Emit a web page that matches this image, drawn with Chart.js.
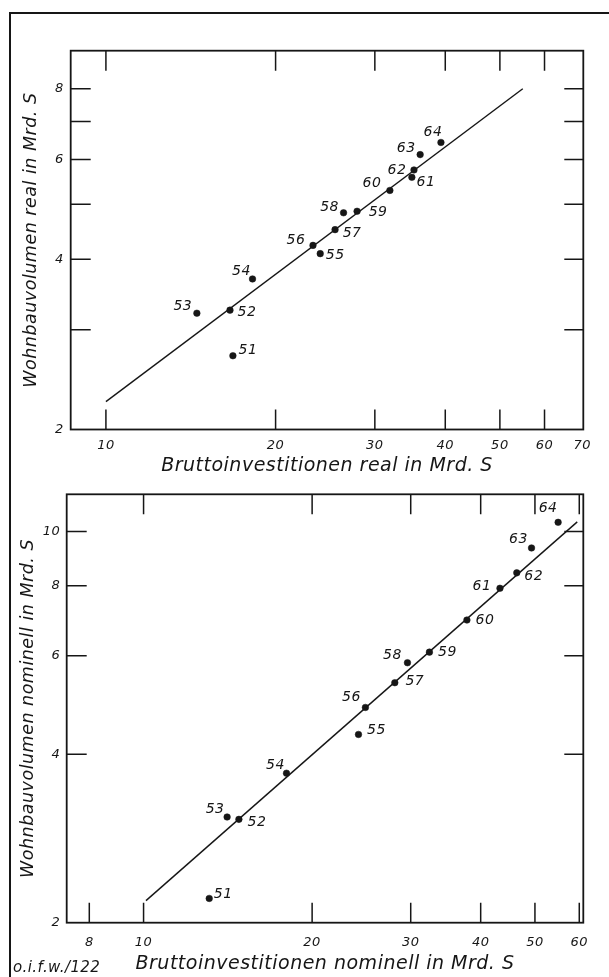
<!DOCTYPE html>
<html>
<head>
<meta charset="utf-8">
<script src="https://cdn.jsdelivr.net/npm/chart.js@4.4.1/dist/chart.umd.min.js"></script>
<style>
  html, body { margin: 0; padding: 0; background: #fff; width: 609px; height: 977px; overflow: hidden; }
  #frame { position: absolute; left: 9px; top: 12px; width: 620px; height: 990px;
           border-top: 2px solid #161616; border-left: 2px solid #161616; }
  canvas { position: absolute; left: 0; }
  #c1 { top: 0; }
  #c2 { top: 480px; }
  #credit { position: absolute; left: 13px; top: 958px; font: italic 15px "DejaVu Sans";
            color: #161616; letter-spacing: 0.4px; white-space: nowrap; }
</style>
</head>
<body>
<div id="frame"></div>
<canvas id="c1" width="609" height="480"></canvas>
<canvas id="c2" width="609" height="497"></canvas>
<div id="credit">o.i.f.w./122</div>
<script>
// ---- data ----
const years = ['51','52','53','54','55','56','57','58','59','60','61','62','63','64'];

// upper chart: real values
const realInvest = [16.8, 16.6, 14.5, 18.2, 24.0, 23.3, 25.5, 26.4, 27.9, 31.9, 34.9, 35.2, 36.1, 39.3];
const realHousing = [2.70, 3.25, 3.21, 3.69, 4.09, 4.23, 4.51, 4.83, 4.86, 5.29, 5.58, 5.75, 6.12, 6.43];
const realFitX = [10, 54.9];
const realFitY = [2.24, 8.0];

// lower chart: nominal values
const nomInvest = [13.1, 14.8, 14.1, 18.0, 24.2, 24.9, 28.1, 29.6, 32.4, 37.8, 43.3, 46.4, 49.3, 55.0];
const nomHousing = [2.21, 3.06, 3.09, 3.70, 4.34, 4.85, 5.37, 5.83, 6.09, 6.95, 7.92, 8.44, 9.35, 10.39];
const nomFitX = [10.1, 59.5];
const nomFitY = [2.19, 10.41];

// tick labels
const realXLabels = [10, 20, 30, 40, 50, 60, 70];
const realYLabels = [2, 4, 6, 8];
const nomXLabels = [8, 10, 20, 30, 40, 50, 60];
const nomYLabels = [2, 4, 6, 8, 10];

// inward tick marks
const realXMarksBottom = [10, 20, 30, 40, 50, 60];
const realXMarksTop = [10, 20, 30, 40, 50, 60];
const realYMarks = [3, 4, 5, 6, 7, 8];
const nomXMarksBottom = [8, 10, 20, 30, 40, 50, 60];
const nomXMarksTop = [10, 20, 30, 40, 50, 60];
const nomYMarks = [4, 6, 8, 10];

// label placement relative to each point (style)
const realLabelOffsets = [[15,-5],[17,2],[-14,-7],[-11,-8],[15,2],[-17,-5],[17,4],[-14,-5],[21,1],[-18,-7],[14,5],[-17,0],[-14,-6],[-8,-10]];
const nomLabelOffsets = [[14,-4],[18,3],[-12,-8],[-11,-8],[18,-4],[-14,-10],[20,-1],[-15,-7],[18,0],[18,0],[-18,-2],[17,4],[-13,-9],[-10,-14]];

const INK = '#161616';
const FONT = 'DejaVu Sans';

const framePlugin = {
  id: 'frameTicks',
  beforeDraw(chart) { chart.ctx.letterSpacing = '0.5px'; },
  afterDraw(chart, args, o) {
    const { ctx, chartArea: a, scales: { x, y } } = chart;
    ctx.save();
    ctx.strokeStyle = INK;
    ctx.lineWidth = 1.8;
    ctx.strokeRect(a.left, a.top, a.right - a.left, a.bottom - a.top);
    ctx.lineWidth = 1.5;
    ctx.beginPath();
    o.xBottom.forEach(v => { const p = x.getPixelForValue(v); ctx.moveTo(p, a.bottom); ctx.lineTo(p, a.bottom - o.len); });
    o.xTop.forEach(v => { const p = x.getPixelForValue(v); ctx.moveTo(p, a.top); ctx.lineTo(p, a.top + o.len); });
    o.y.forEach(v => {
      const p = y.getPixelForValue(v);
      ctx.moveTo(a.left, p); ctx.lineTo(a.left + o.len, p);
      ctx.moveTo(a.right, p); ctx.lineTo(a.right - o.len + 1, p);
    });
    ctx.stroke();
    ctx.restore();
  },
  afterDatasetsDraw(chart, args, o) {
    const { ctx } = chart;
    const meta = chart.getDatasetMeta(1);
    ctx.save();
    ctx.font = 'italic 14px "' + FONT + '"';
    ctx.fillStyle = INK;
    ctx.textAlign = 'center';
    ctx.textBaseline = 'middle';
    meta.data.forEach((pt, i) => {
      const off = o.offsets[i];
      ctx.fillText(o.labels[i], pt.x + off[0], pt.y + off[1]);
    });
    ctx.restore();
  }
};

function makeChart(id, c) {
  const tickFont = { family: FONT, size: 13, style: 'italic' };
  const titleFontX = { family: FONT, size: 19, style: 'italic', lineHeight: 1 };
  const titleFontY = { family: FONT, size: 17.5, style: 'italic', lineHeight: 1 };
  return new Chart(document.getElementById(id), {
    type: 'scatter',
    data: {
      datasets: [
        {
          data: c.fitX.map((v, i) => ({ x: v, y: c.fitY[i] })),
          showLine: true, borderColor: INK, borderWidth: 1.4, pointRadius: 0, fill: false
        },
        {
          data: c.xs.map((v, i) => ({ x: v, y: c.ys[i] })),
          showLine: false, pointRadius: 3.3, pointBackgroundColor: INK, pointBorderColor: INK, pointBorderWidth: 0.5
        }
      ]
    },
    options: {
      responsive: false,
      animation: false,
      devicePixelRatio: 1,
      layout: { padding: c.padding },
      plugins: {
        legend: { display: false },
        tooltip: { enabled: false },
        frameTicks: { xBottom: c.xMarksBottom, xTop: c.xMarksTop, y: c.yMarks, len: c.tickLen,
                      labels: years, offsets: c.offsets }
      },
      scales: {
        x: {
          type: 'logarithmic', min: c.xMin, max: c.xMax,
          afterBuildTicks: ax => { ax.ticks = c.xLabels.map(v => ({ value: v })); },
          afterFit: ax => { ax.height = c.xAxisH; },
          grid: { display: false, drawTicks: false },
          border: { display: false },
          ticks: { autoSkip: false, maxRotation: 0, padding: c.xTickPad, font: tickFont, color: INK,
                   callback: v => String(v) },
          title: { display: true, text: c.xTitle, font: titleFontX, color: INK,
                   padding: { top: 0, bottom: c.xTitlePad } }
        },
        y: {
          type: 'logarithmic', min: c.yMin, max: c.yMax,
          afterBuildTicks: ax => { ax.ticks = c.yLabels.map(v => ({ value: v })); },
          afterFit: ax => { ax.width = c.yAxisW; },
          grid: { display: false, drawTicks: false },
          border: { display: false },
          ticks: { autoSkip: false, padding: c.yTickPad, font: tickFont, color: INK,
                   callback: v => String(v) },
          title: { display: true, text: c.yTitle, font: titleFontY, color: INK,
                   padding: { top: c.yTitlePad, bottom: 0 } }
        }
      }
    },
    plugins: [framePlugin]
  });
}

makeChart('c1', {
  xs: realInvest, ys: realHousing, fitX: realFitX, fitY: realFitY,
  xLabels: realXLabels, yLabels: realYLabels,
  xMarksBottom: realXMarksBottom, xMarksTop: realXMarksTop, yMarks: realYMarks,
  offsets: realLabelOffsets,
  xMin: 8.66, xMax: 70.3, yMin: 2, yMax: 9.34,
  padding: { left: 0, top: 50.7, right: 25.7, bottom: 0 },
  xAxisH: 50.5, yAxisW: 70.7, xTickPad: 8, yTickPad: 7, xTitlePad: 4, yTitlePad: 22.5, tickLen: 20,
  xTitle: 'Bruttoinvestitionen real in Mrd. S',
  yTitle: 'Wohnbauvolumen real in Mrd. S'
});

makeChart('c2', {
  xs: nomInvest, ys: nomHousing, fitX: nomFitX, fitY: nomFitY,
  xLabels: nomXLabels, yLabels: nomYLabels,
  xMarksBottom: nomXMarksBottom, xMarksTop: nomXMarksTop, yMarks: nomYMarks,
  offsets: nomLabelOffsets,
  xMin: 7.29, xMax: 61.0, yMin: 2, yMax: 11.66,
  padding: { left: 0, top: 9.3, right: 25.7, bottom: 0 },
  xAxisH: 54.3, yAxisW: 66.7, xTickPad: 12, yTickPad: 6.5, xTitlePad: 3.5, yTitlePad: 20, tickLen: 20,
  xTitle: 'Bruttoinvestitionen nominell in Mrd. S',
  yTitle: 'Wohnbauvolumen nominell in Mrd. S'
});
</script>
</body>
</html>
